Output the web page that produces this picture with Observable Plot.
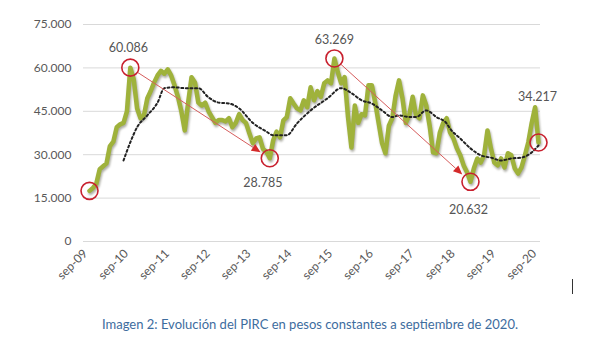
<!DOCTYPE html>
<html><head><meta charset="utf-8">
<script src="https://cdn.jsdelivr.net/npm/d3@7"></script>
<script src="https://cdn.jsdelivr.net/npm/@observablehq/plot@0.6"></script>
<style>
body{margin:0;background:#fff;width:592px;height:345px;overflow:hidden;position:relative;font-family:Lato,"Open Sans",sans-serif}
#chart{position:absolute;left:0;top:0}
#caption{position:absolute;left:0;width:620px;top:316px;text-align:center;font-size:13px;color:#3d6c9e;font-family:Lato,"Open Sans",sans-serif}
#cursor{position:absolute;left:572px;top:279px;width:1px;height:15px;background:#333}
</style></head><body>
<div id="chart"></div>
<div id="caption">Imagen 2: Evolución del PIRC en pesos constantes a septiembre de 2020.</div>
<div id="cursor"></div>
<script>
// Monthly PIRC (constant pesos), sep-09 .. sep-20 (index 0..132)
const pirc = [17500,18500,20000,25000,26000,27000,33000,34500,39500,40500,41000,45000,
  60086,
  56000,46000,42600,43600,49500,52000,55000,57400,59000,58000,59500,57400,
  54000,50000,45000,38400,48000,56800,55000,48000,47000,48000,45000,43000,
  41000,42000,42000,41500,42600,39500,41000,44000,42000,41000,37400,34000,
  35600,36000,32000,31000,28785,35000,38000,36000,41900,43000,49500,47700,
  46000,45300,48800,46400,53300,48800,52000,50000,54700,55700,54700,63269,
  58500,54700,56800,43000,32500,47000,41000,44000,43600,54000,54000,48000,
  41000,34000,30500,40000,42600,50500,55700,49500,41000,43600,50000,43600,
  42600,50500,47000,40000,30800,30500,37700,41000,42600,37700,35600,32200,
  29800,26300,23900,20632,25300,28700,27300,29800,38400,32200,27300,26300,
  28700,25600,30500,29800,25300,23500,25600,29800,34300,41000,46400,34217];

// Trend (dotted): month index and value
const maIdx = [10,12,14,17,20,22,25,28,32,35,38,41,44,48,52,54,58,61,65,70,74,77,80,83,86,89,91,94,96,99,102,105,106,109,112,115,118,121,124,127,130,132];
const maVal = [28000,34300,39500,43600,48000,53000,53300,53000,53000,49800,48000,47700,46000,41000,38000,36700,36700,40800,45300,49500,53000,51300,48800,47700,45300,43000,43600,43000,43000,45300,43000,40800,39000,35600,32200,29800,29000,28000,28700,29000,30800,33200];

const circleIdx = [0,12,53,72,112,132];
const labelIdx = [12,53,72,112,132];
const arrowFrom = [12,72];
const arrowTo = [53,112];

const xTickIdx = [0,12,24,36,48,60,72,84,96,108,120,132];
const xTickLabels = ["sep-09","sep-10","sep-11","sep-12","sep-13","sep-14","sep-15","sep-16","sep-17","sep-18","sep-19","sep-20"];
const yTicks = [0,15000,30000,45000,60000,75000];

const fmt = d3.formatLocale({decimal:",", thousands:".", grouping:[3], currency:["",""]}).format(",d");

const data = pirc.map((v,i)=>({i, v}));
const ma = maIdx.map((i,k)=>({i, v: maVal[k]}));
const circles = circleIdx.map(i=>({i, v: pirc[i]}));
const arrows = arrowFrom.map((a,k)=>({x1:a, y1:pirc[a], x2:arrowTo[k], y2:pirc[arrowTo[k]]}));

// label offsets (styling only)
const labelOff = {12:[-2,-20], 53:[-7,25], 72:[0,-18], 112:[-2,28], 132:[-1,-45]};

const labelMarks = labelIdx.map(i => Plot.text([{i, v: pirc[i]}], {
  x:"i", y:"v", text: d=>fmt(d.v), dx: labelOff[i][0], dy: labelOff[i][1],
  fontSize: 12.5, fill: "#555"
}));

const RED = "#c8202e";

function arrowRender(index, scales, values, dimensions, context, next) {
  const X1=[],Y1=[],X2=[],Y2=[];
  const heads = [];
  for (const i of index) {
    const x1=values.x1[i], y1=values.y1[i], x2=values.x2[i], y2=values.y2[i];
    const L = Math.hypot(x2-x1, y2-y1), ux=(x2-x1)/L, uy=(y2-y1)/L;
    const sx=x1+ux*8, sy=y1+uy*8;
    const tx=x2-ux*11, ty=y2-uy*11;
    const bx=tx-ux*9, by=ty-uy*9;
    X1[i]=sx; Y1[i]=sy; X2[i]=bx; Y2[i]=by;
    const px=-uy, py=ux;
    heads.push(`M${tx},${ty}L${bx+px*4},${by+py*4}L${bx-px*4},${by-py*4}Z`);
  }
  const g = next(index, scales, {...values, x1:X1, y1:Y1, x2:X2, y2:Y2}, dimensions, context);
  for (const d of heads) d3.select(g).append("path").attr("d", d).attr("fill", "#d42a2a").attr("stroke","none");
  return g;
}

const chart = Plot.plot({
  width: 592, height: 300,
  marginTop: 24, marginBottom: 59, marginLeft: 83, marginRight: 52,
  style: {fontFamily: "Lato, 'Open Sans', sans-serif", fontSize: "12px", color: "#595959", background: "transparent"},
  x: {domain: [0,132], insetLeft: 6, insetRight: 2},
  y: {domain: [0,75000]},
  marks: [
    Plot.ruleY(yTicks, {stroke: "#d9d9d9", strokeWidth: 1}),
    Plot.axisY({ticks: yTicks, tickSize: 0, tickPadding: 12, tickFormat: fmt, fontSize: 12}),
    Plot.axisX({ticks: xTickIdx, tickFormat: d => xTickLabels[xTickIdx.indexOf(d)], tickRotate: -45, tickSize: 0, tickPadding: 10, dx: -4, fontSize: 12}),
    Plot.line(data, {x:"i", y:"v", stroke:"#9fb23b", strokeWidth: 4.5, strokeLinejoin: "round", strokeLinecap: "round",
      imageFilter: "drop-shadow(1.5px 2px 1.2px rgba(70,70,50,0.45))"}),
    Plot.line(ma, {x:"i", y:"v", stroke:"#222", strokeWidth: 2, strokeDasharray: "2,2.6", curve: "monotone-x"}),
    Plot.link(arrows, {x1:"x1", y1:"y1", x2:"x2", y2:"y2", stroke:"#d65c5c", strokeWidth: 1, render: arrowRender}),
    Plot.dot(circles, {x:"i", y:"v", r: 8.5, stroke: RED, strokeWidth: 1.6, fill: "none"}),
    ...labelMarks
  ]
});
document.getElementById("chart").appendChild(chart);
</script>
</body></html>
